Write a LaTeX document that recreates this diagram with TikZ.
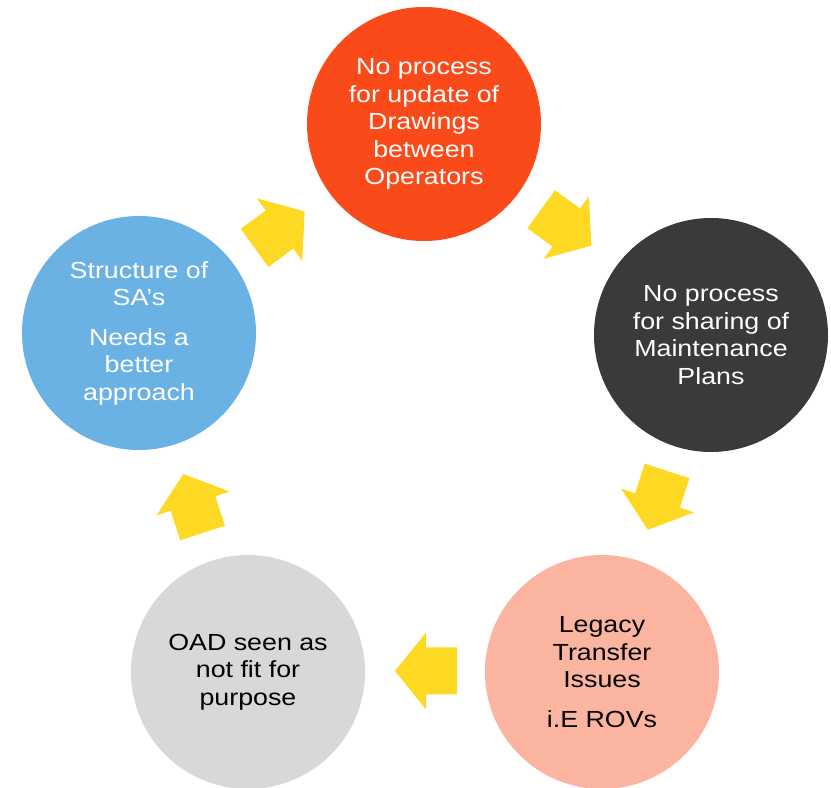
\documentclass[tikz,border=0pt]{standalone}
\usepackage{fontspec}
\setmainfont{Liberation Sans}[FakeStretch=1.15]
\definecolor{cOrange}{HTML}{FB4A19}
\definecolor{cDark}{HTML}{3A3B38}
\definecolor{cSalmon}{HTML}{FBB4A0}
\definecolor{cGrey}{HTML}{D7D9D6}
\definecolor{cBlue}{HTML}{6AB1E4}
\definecolor{cYellow}{HTML}{FDD923}
\begin{document}
\begin{tikzpicture}[x=1pt,y=1pt,
  bubble/.style={circle,minimum size=234pt,inner sep=0pt,align=center,
    font=\fontsize{23.3}{27.5}\selectfont},
  blockarrow/.style={fill=cYellow}]
\useasboundingbox (0,0) rectangle (831,788);
\node[bubble,fill=cOrange,text=white] (c1) at (424,664)
  {No process\\for update of\\Drawings\\between\\Operators};
\node[bubble,fill=cDark,text=white] (c2) at (711,453)
  {No process\\for sharing of\\Maintenance\\Plans};
\node[bubble,fill=cSalmon,text=black] (c3) at (602,116)
  {Legacy\\Transfer\\Issues\\[12pt]i.E ROVs};
\node[bubble,fill=cGrey,text=black] (c4) at (248,116)
  {OAD seen as\\not fit for\\purpose};
\node[bubble,fill=cBlue,text=white] (c5) at (139,455)
  {Structure of\\SA’s\\[12pt]Needs a\\better\\approach};
\foreach \cx/\cy/\ang in {279.6/558.4/36, 566.3/560.5/-36, 657.5/287.6/-108, 426/117/180, 193/284.5/108}{
  \fill[blockarrow,shift={(\cx,\cy)},rotate=\ang]
    (-31,-23.5) -- (0,-23.5) -- (0,-38.5) -- (31,0) -- (0,38.5) -- (0,23.5) -- (-31,23.5) -- cycle;
}
\end{tikzpicture}
\end{document}
